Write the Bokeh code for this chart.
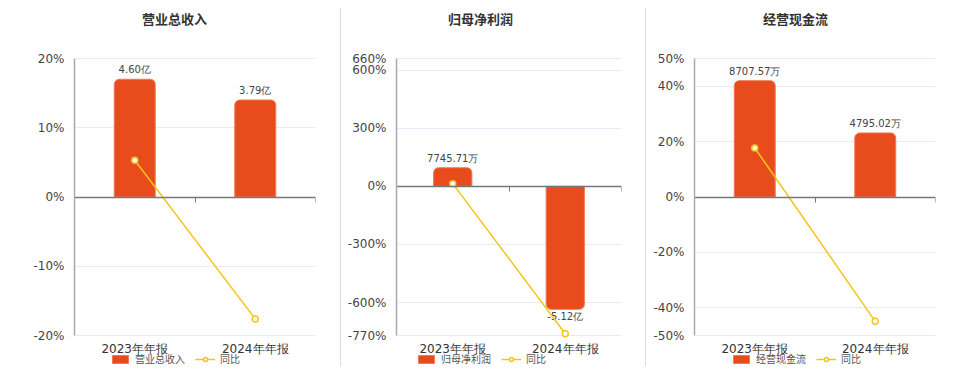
from bokeh.plotting import figure
from bokeh.models import (Range1d, FixedTicker, ColumnDataSource, Legend,
                          LegendItem, Div, Label, LinearAxis)
from bokeh.layouts import row
from bokeh.core.properties import value
from bokeh.embed import file_html
from bokeh.resources import INLINE

# ---------------- data ----------------
categories = ["2023年年报", "2024年年报"]

revenue = [4.60, 3.79]            # 亿
revenue_labels = ["4.60亿", "3.79亿"]
revenue_yoy = [5.3, -17.6]        # %

profit = [0.774571, -5.12]        # 亿
profit_labels = ["7745.71万", "-5.12亿"]
profit_yoy = [14.0, -761.0]       # %

cashflow = [0.870757, 0.479502]   # 亿
cashflow_labels = ["8707.57万", "4795.02万"]
cashflow_yoy = [17.7, -44.9]      # %

rev_ticks = [-20, -10, 0, 10, 20]
profit_ticks = [-770, -600, -300, 0, 300, 600, 660]
cash_ticks = [-50, -40, -20, 0, 20, 40, 50]

# ---------------- style ----------------
BAR = "#e84c1d"
LINE = "#f5c518"
NUM_FONT = "DejaVu Sans"
CJK_FONT = "Noto Sans CJK SC"
H = 372
TOP_PX, BOT_PX = 58, 37          # plot area inset inside the panel


def panel(title, name, bar_vals, bar_labels, yoy, ticks, scale, width, left, right,
          title_x, legend_x):
    ymin, ymax = ticks[0], ticks[-1]
    upp = (ymax - ymin) / (H - TOP_PX - BOT_PX)
    p = figure(width=width, height=H, output_backend="svg", toolbar_location=None,
               tools="", x_range=Range1d(0, 2),
               y_range=Range1d(ymin - BOT_PX * upp, ymax + TOP_PX * upp),
               x_axis_location=None,
               min_border_left=left, min_border_right=right, min_border_top=0,
               min_border_bottom=0)
    p.outline_line_color = None
    p.background_fill_color = "white"
    p.border_fill_color = "white"
    p.extra_y_ranges = {"bar": Range1d((ymin - BOT_PX * upp) / scale,
                                       (ymax + TOP_PX * upp) / scale)}

    xs = [i + 0.5 for i in range(len(categories))]

    # category axis at the bottom of the value range
    xa = LinearAxis(fixed_location=ymin, ticker=FixedTicker(ticks=xs),
                    major_label_overrides={x: c for x, c in zip(xs, categories)},
                    axis_line_color=None, major_tick_line_color=None,
                    major_tick_in=0, major_tick_out=0,
                    minor_tick_line_color=None, minor_tick_out=0,
                    major_label_standoff=6,
                    major_label_text_font=NUM_FONT, major_label_text_font_size="12px",
                    major_label_text_color="#333333")
    p.add_layout(xa, "below")

    # y axis
    p.yaxis.ticker = FixedTicker(ticks=ticks)
    p.yaxis.bounds = (ymin, ymax)
    p.yaxis.major_label_overrides = {t: f"{t}%" for t in ticks}
    p.yaxis.axis_line_color = "#aaaaaa"
    p.yaxis.axis_line_width = 1.5
    p.yaxis.major_tick_line_color = None
    p.yaxis.minor_tick_line_color = None
    p.yaxis.major_label_standoff = 4
    p.yaxis.major_label_text_font = NUM_FONT
    p.yaxis.major_label_text_font_size = "12px"
    p.yaxis.major_label_text_color = "#444444"

    p.xgrid.visible = False
    p.ygrid.ticker = FixedTicker(ticks=ticks)
    p.ygrid.grid_line_color = "#e6ebf5"

    # bars
    pos = ColumnDataSource(dict(x=[x for x, v in zip(xs, bar_vals) if v >= 0],
                                top=[v for v in bar_vals if v >= 0],
                                lab=[l for l, v in zip(bar_labels, bar_vals) if v >= 0]))
    neg = ColumnDataSource(dict(x=[x for x, v in zip(xs, bar_vals) if v < 0],
                                top=[v for v in bar_vals if v < 0],
                                lab=[l for l, v in zip(bar_labels, bar_vals) if v < 0]))
    rb = p.vbar(x="x", top="top", bottom=0, width=0.34, source=pos, y_range_name="bar",
                fill_color=BAR, line_color="#f07a55", line_width=1,
                border_radius=(5, 5, 0, 0))
    p.vbar(x="x", top=0, bottom="top", width=0.34, source=neg, y_range_name="bar",
           fill_color=BAR, line_color="#f07a55", line_width=1,
           border_radius=(0, 0, 5, 5))
    p.text(x="x", y="top", text="lab", source=pos, y_range_name="bar",
           text_align="center", text_baseline="bottom", y_offset=-4,
           text_font=value(NUM_FONT), text_font_size="10px", text_color="#444444")
    p.text(x="x", y="top", text="lab", source=neg, y_range_name="bar",
           text_align="center", text_baseline="top", y_offset=2,
           text_font=value(NUM_FONT), text_font_size="10px", text_color="#444444")

    # zero axis with category boundary ticks
    za = LinearAxis(fixed_location=0,
                    ticker=FixedTicker(ticks=list(range(len(categories) + 1))),
                    axis_line_color="#777777", axis_line_width=1.5,
                    major_tick_line_color="#777777", major_tick_in=0, major_tick_out=5,
                    minor_tick_line_color=None, major_label_text_alpha=0,
                    major_label_text_font_size="1px")
    p.add_layout(za, "below")

    # yoy line
    ln = p.line(xs, yoy, line_color=LINE, line_width=1.5)
    sc = p.scatter(xs, yoy, size=6, marker="circle", line_color=LINE, line_width=1.5,
                   fill_color="white")

    # title
    p.add_layout(Label(x=title_x, y=H - 18, x_units="screen", y_units="screen",
                       text=title, text_align="center", text_baseline="middle",
                       text_font=CJK_FONT, text_font_style="bold",
                       text_font_size="13px", text_color="#333333"))

    legend = Legend(items=[LegendItem(label=name, renderers=[rb]),
                           LegendItem(label="同比", renderers=[ln, sc])],
                    location=(legend_x, 6), orientation="horizontal",
                    glyph_width=20, glyph_height=10, label_height=10,
                    label_standoff=5, spacing=10, padding=0, margin=0,
                    border_line_alpha=0, background_fill_alpha=0,
                    label_text_font=CJK_FONT, label_text_font_size="10px",
                    label_text_color="#555555")
    p.add_layout(legend)
    return p


p1 = panel("营业总收入", "营业总收入", revenue, revenue_labels, revenue_yoy, rev_ticks,
           17 / 4.60, 340, 74, 25, 100, 36)
p2 = panel("归母净利润", "归母净利润", profit, profit_labels, profit_yoy, profit_ticks,
           124.0, 304, 55, 24, 84, 20)
p3 = panel("经营现金流", "经营现金流", cashflow, cashflow_labels, cashflow_yoy, cash_ticks,
           42 / 0.870757, 314, 48, 25, 101, 37)


def sep():
    return Div(text="", width=1, height=358, margin=(8, 0, 0, 0),
               styles={"background-color": "#dddddd"})


layout = row(p1, sep(), p2, sep(), p3, spacing=0)

open("out.html", "w").write(file_html(layout, INLINE))
